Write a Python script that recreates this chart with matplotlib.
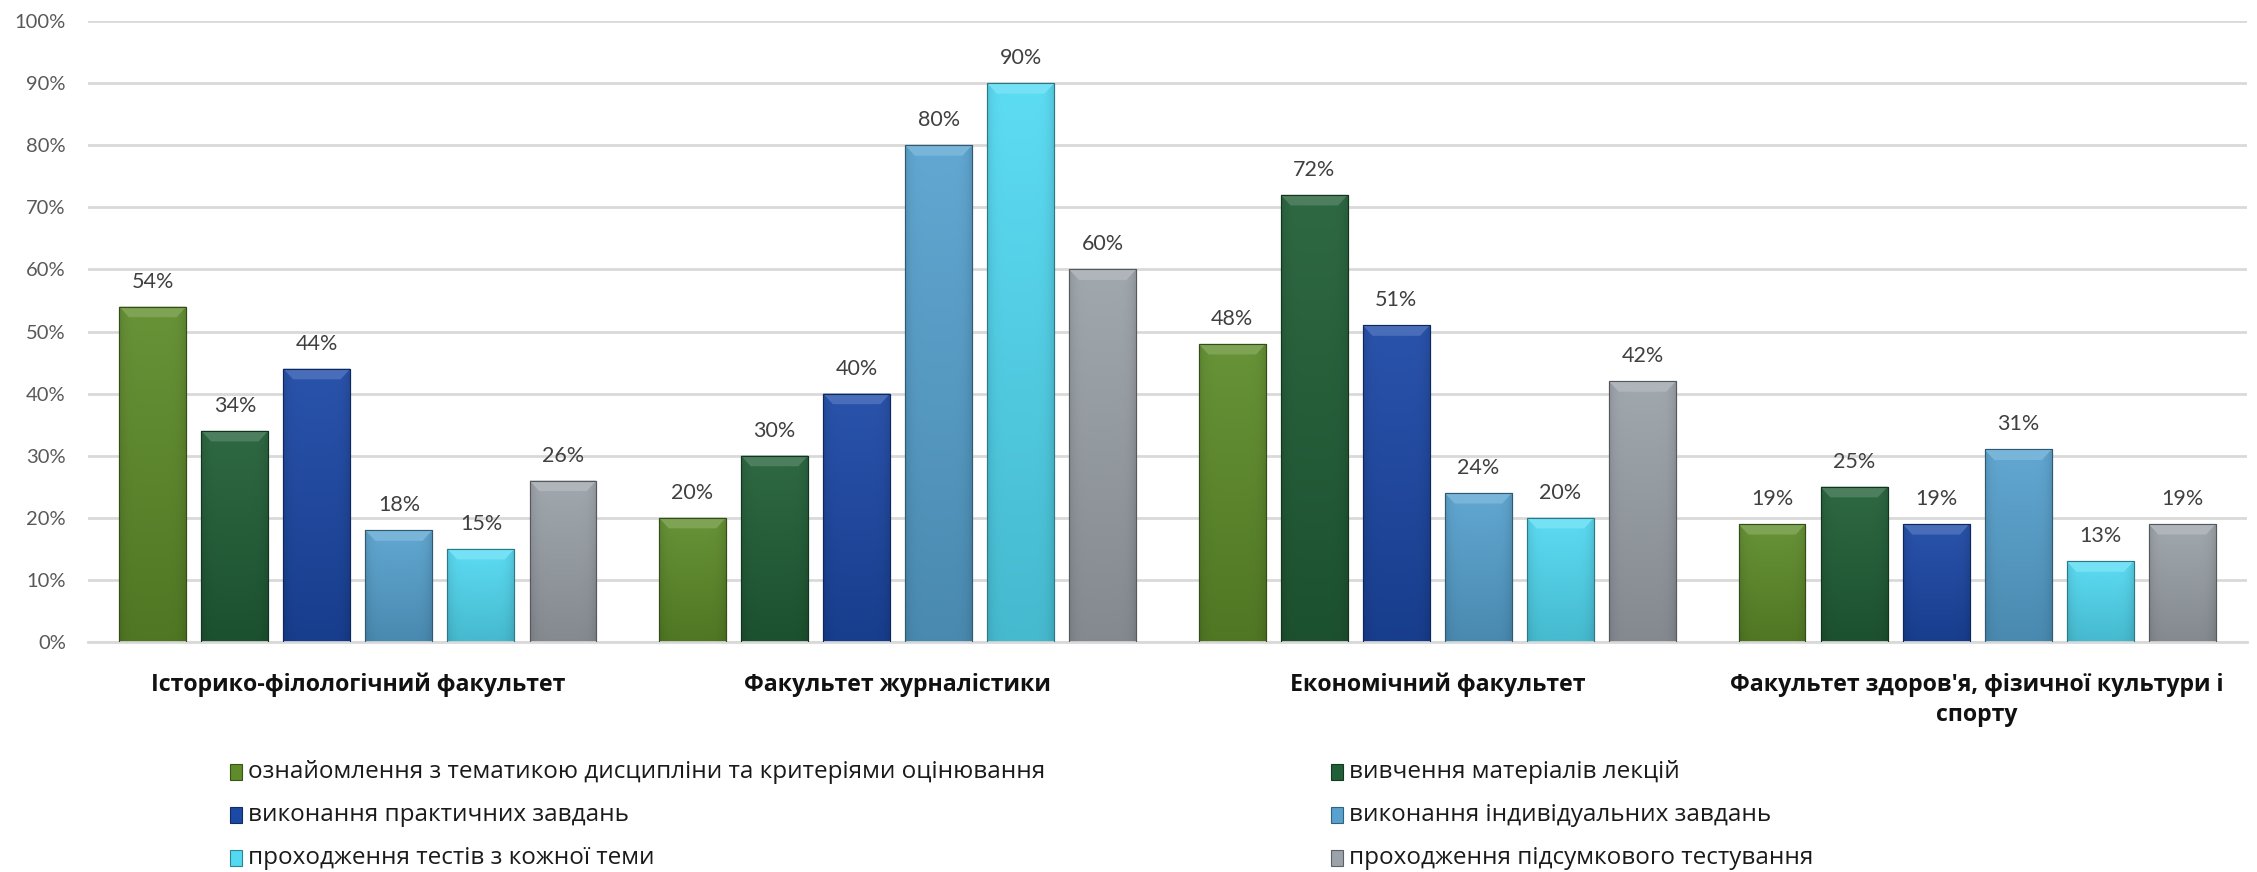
import numpy as np
import matplotlib.pyplot as plt
from matplotlib.patches import Rectangle, Polygon
from matplotlib.colors import to_rgb

# data
faculties = ["Історико-філологічний факультет", "Факультет журналістики",
             "Економічний факультет", "Факультет здоров'я, фізичної культури і\nспорту"]
series = ["ознайомлення з тематикою дисципліни та критеріями оцінювання",
          "вивчення матеріалів лекцій",
          "виконання практичних завдань",
          "виконання індивідуальних завдань",
          "проходження тестів з кожної теми",
          "проходження підсумкового тестування"]
values = [
    [54, 20, 48, 19],
    [34, 30, 72, 25],
    [44, 40, 51, 19],
    [18, 80, 24, 31],
    [15, 90, 20, 13],
    [26, 60, 42, 19],
]
colors = ["#5e8c2a", "#215f37", "#1c48a6", "#57a2cf", "#52daf3", "#9ba2a9"]

W, H = 2257, 872
fig = plt.figure(figsize=(W / 100, H / 100), dpi=100)
ax = fig.add_axes([88 / W, 1 - 642 / H, (2247 - 88) / W, (642 - 21) / H])

x = np.arange(len(faculties))
bw = 0.124
step = 0.152


def shade(c, f):
    r = np.array(to_rgb(c))
    if f > 0:
        return tuple(r + (1 - r) * f)
    return tuple(r * (1 + f))


for i, (name, vals) in enumerate(zip(series, values)):
    pos = x + (i - 2.5) * step
    bars = ax.bar(pos, vals, bw, color=colors[i], edgecolor=shade(colors[i], -0.45),
                  linewidth=0.8, zorder=2)
    for rect, v in zip(bars, vals):
        x0, w, h = rect.get_x(), rect.get_width(), rect.get_height()
        # vertical gradient, lighter at top
        t = np.linspace(0, 1, 64)[:, None]
        top = np.array(shade(colors[i], 0.06))
        bot = np.array(shade(colors[i], -0.15))
        grad = top * (1 - t[..., None]) + bot * t[..., None]
        s = np.linspace(-1, 1, 32)
        side = 1 - 0.10 * np.abs(s) ** 6
        img = grad * side[None, :, None]
        im = ax.imshow(np.clip(img, 0, 1), extent=[x0, x0 + w, 0, h], aspect="auto",
                       origin="upper", zorder=2.5, interpolation="bilinear")
        im.set_clip_path(rect)
        # bevel on top
        dx, dy = 0.018, 1.7
        ax.add_patch(Polygon([[x0, h], [x0 + w, h], [x0 + w - dx, h - dy], [x0 + dx, h - dy]],
                             closed=True, facecolor=shade(colors[i], 0.2),
                             edgecolor="none", zorder=3))
        ax.add_patch(Rectangle((x0, 0), w, h, fill=False,
                               edgecolor=shade(colors[i], -0.45), linewidth=0.8, zorder=3.5))
        ax.annotate(f"{v}%", (x0 + w / 2, h), xytext=(0, 25), textcoords="offset pixels",
                    ha="center", va="center", fontsize=15.5, family="Lato", color="#404040")

ax.set_xlim(-0.5, 3.5)
ax.set_ylim(0, 100)
ax.set_yticks(np.arange(0, 101, 10))
ax.set_yticklabels([f"{t}%" for t in range(0, 101, 10)], family="Lato", fontsize=14.5,
                   color="#595959")
ax.set_xticks(x)
ax.set_xticklabels(faculties, fontsize=16.7, fontweight="bold", family="Open Sans",
                   color="#111111", linespacing=1.35)
ax.tick_params(axis="y", length=0, pad=16)
ax.tick_params(axis="x", length=0, pad=22)
ax.grid(axis="y", color="#d9d9d9", linewidth=2, zorder=0)
ax.set_axisbelow(True)
for sp in ["top", "right", "left"]:
    ax.spines[sp].set_visible(False)
ax.spines["bottom"].set_color("#d9d9d9")
ax.spines["bottom"].set_linewidth(2)

# legend, row-major in two columns
col_x = [230, 1331]
row_y = [772, 815, 858]
for i, name in enumerate(series):
    cx = col_x[i % 2]
    cy = row_y[i // 2]
    fig.patches.append(Rectangle((cx / W, 1 - (cy + 8) / H), 12 / W, 16 / H,
                                 transform=fig.transFigure, facecolor=colors[i],
                                 edgecolor=shade(colors[i], -0.4), linewidth=0.8))
    fig.text((cx + 18) / W, 1 - cy / H, name, ha="left", va="center", fontsize=17.5,
             family="Open Sans", color="#1a1a1a")

fig.savefig("out.png", dpi=100)
